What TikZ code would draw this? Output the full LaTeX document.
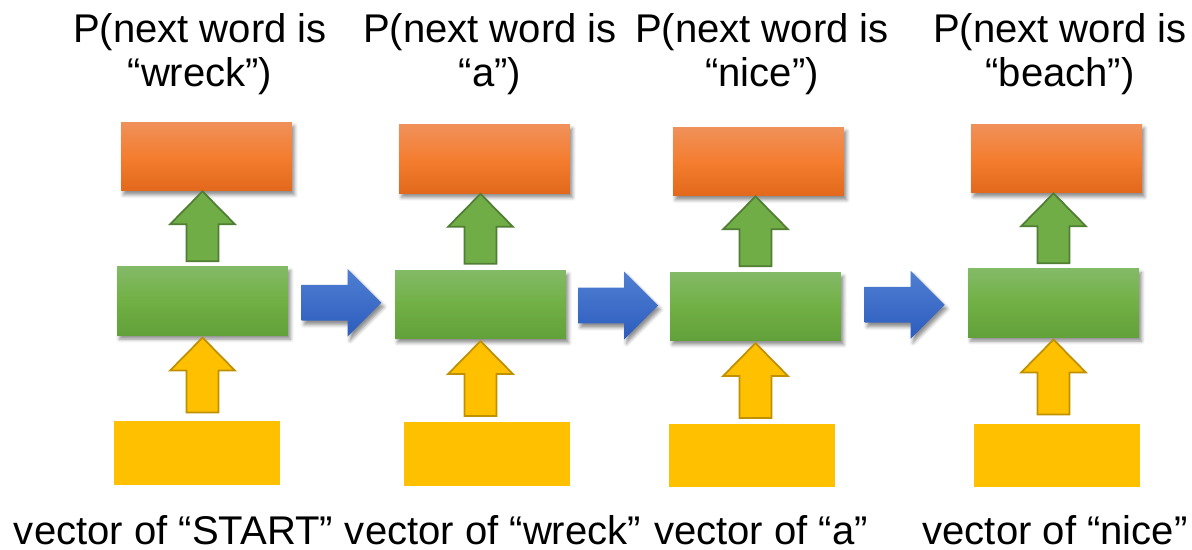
\documentclass[tikz,border=0pt]{standalone}
\usepackage{fontspec}
\setmainfont{Liberation Sans}
\usetikzlibrary{calc, shadows.blur}
\definecolor{outtop}{HTML}{F0915A}
\definecolor{outmid}{HTML}{F47D30}
\definecolor{outbot}{HTML}{E2691B}
\definecolor{hidtop}{HTML}{83BA67}
\definecolor{hidmid}{HTML}{71B044}
\definecolor{hidbot}{HTML}{62A03A}
\definecolor{inyellow}{HTML}{FFC000}
\definecolor{arrgreen}{HTML}{70AD47}
\definecolor{arrgreenline}{HTML}{507E32}
\definecolor{arryellowline}{HTML}{BF9000}
\definecolor{arrbluetop}{HTML}{4F7FD2}
\definecolor{arrbluebot}{HTML}{2D5DBE}

% fat up arrow, tip at #2, shaft #3 long
\newcommand{\blockup}[3]{%
  \path[#1] let \p1=(#2) in
    (\x1,\y1) -- (\x1+0.65cm,\y1-0.66cm) -- (\x1+0.32cm,\y1-0.66cm)
    -- (\x1+0.32cm,\y1-#3) -- (\x1-0.32cm,\y1-#3)
    -- (\x1-0.32cm,\y1-0.66cm) -- (\x1-0.65cm,\y1-0.66cm) -- cycle;}
% fat right arrow, centred between #1 and #2
\newcommand{\blockright}[3]{%
  \path[#1] let \p1=($(#2)!0.5!(#3)$) in
    (\x1-0.8cm,\y1+0.36cm) -- (\x1+0.12cm,\y1+0.36cm) -- (\x1+0.12cm,\y1+0.68cm)
    -- (\x1+0.8cm,\y1) -- (\x1+0.12cm,\y1-0.68cm) -- (\x1+0.12cm,\y1-0.36cm)
    -- (\x1-0.8cm,\y1-0.36cm) -- cycle;}

\begin{document}
\begin{tikzpicture}[
    x=0.02cm, y=-0.02cm,
    every node/.style={font=\fontsize{22.8}{25.6}\selectfont, inner sep=0pt},
    boxshadow/.style={blur shadow={shadow xshift=0.05cm, shadow yshift=-0.08cm,
                      shadow blur radius=0.07cm, shadow opacity=45}},
    outbox/.style={rectangle, minimum width=3.42cm, minimum height=1.38cm,
                   top color=outtop, bottom color=outbot, middle color=outmid, boxshadow},
    hidbox/.style={rectangle, minimum width=3.42cm, minimum height=1.37cm,
                   top color=hidtop, bottom color=hidbot, middle color=hidmid, boxshadow},
    inbox/.style={rectangle, fill=inyellow, minimum width=3.32cm, minimum height=1.28cm},
    greenarrow/.style={fill=arrgreen, draw=arrgreenline, line width=1pt},
    yellowarrow/.style={fill=inyellow, draw=arryellowline, line width=1pt},
    bluearrow/.style={top color=arrbluetop, bottom color=arrbluebot, boxshadow},
    wordlabel/.style={align=center, anchor=base},
]
\useasboundingbox (0,0) rectangle (1192,550);

% output layer
\node[outbox] (o1) at (206.5,156.5) {};
\node[outbox] (o2) at (484.5,159) {};
\node[outbox] (o3) at (758.5,161.5) {};
\node[outbox] (o4) at (1056.5,158.5) {};

% hidden layer
\node[hidbox] (g1) at (202.5,301) {};
\node[hidbox] (g2) at (480.5,304.5) {};
\node[hidbox] (g3) at (755.5,306.5) {};
\node[hidbox] (g4) at (1053.5,303) {};

% input vectors
\node[inbox] (y1) at (197,453) {};
\node[inbox] (y2) at (487,454) {};
\node[inbox] (y3) at (752,455.5) {};
\node[inbox] (y4) at (1057,455.5) {};

% arrows between the layers
\foreach \i in {1,...,4} {
    \blockup{greenarrow}{g\i.north |- o\i.south}{1.4cm}
    \blockup{yellowarrow}{$(g\i.south)+(0,2)$}{1.5cm}
}
\foreach \i/\j in {1/2, 2/3, 3/4} {
    \blockright{bluearrow}{g\i.east}{g\j.west}
}

% word probabilities on top (base = second line)
\node[wordlabel] (p1) at (200,87) {P(next word is\\“wreck”)};
\node[wordlabel] (p2) at (490,87) {P(next word is\\“a”)};
\node[wordlabel] (p3) at (762,87) {P(next word is\\“nice”)};
\node[wordlabel] (p4) at (1060,87) {P(next word is\\“beach”)};

% input words below
\node[wordlabel, text depth=0pt] (v1) at (173.5,544) {vector of “START”};
\node[wordlabel, text depth=0pt] (v2) at (493,544) {vector of “wreck”};
\node[wordlabel, text depth=0pt] (v3) at (761,544) {vector of “a”};
\node[wordlabel, text depth=0pt] (v4) at (1055,544) {vector of “nice”};
\end{tikzpicture}
\end{document}
